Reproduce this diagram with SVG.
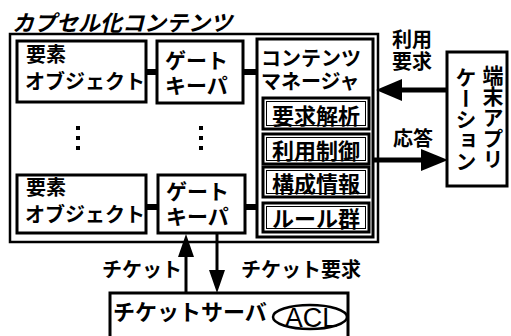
<svg xmlns="http://www.w3.org/2000/svg" width="511" height="336" viewBox="0 0 511 336">
<style>
text{font-family:"Noto Sans CJK JP","Noto Sans CJK SC",sans-serif;font-weight:bold;fill:#000}
.box{fill:#fff;stroke:#000;stroke-width:3}
.outer{fill:#fff;stroke:#000;stroke-width:2.5}
.sub{fill:#fff;stroke:#000;stroke-width:3}
.subin{fill:none;stroke:#000;stroke-width:1}
.line{stroke:#000;fill:none}
.head{fill:#000}
.t20{font-size:20px}
.t21{font-size:21px}
.t22{font-size:22px}
.mid{text-anchor:middle}
.v{writing-mode:vertical-rl;font-size:21px}
</style>
<rect width="511" height="336" fill="#fff"/>
<text x="12" y="31" font-size="22" font-style="italic" font-weight="normal">カプセル化コンテンツ</text>
<g id="capsule">
<rect class="outer" x="10" y="34" width="368" height="208"/>
</g>
<g id="connectors">
<line class="line" x1="145" y1="72" x2="158" y2="72" stroke-width="6"/>
<line class="line" x1="242" y1="72" x2="258" y2="72" stroke-width="6"/>
<line class="line" x1="145" y1="207" x2="158" y2="207" stroke-width="6"/>
<line class="line" x1="244" y1="207" x2="258" y2="207" stroke-width="6"/>
<line class="line" x1="400" y1="90" x2="448" y2="90" stroke-width="5"/>
<polygon class="head" points="376,90 402,79 402,101"/>
<line class="line" x1="373" y1="160" x2="424" y2="160" stroke-width="5"/>
<polygon class="head" points="448,160 421,149 421,171"/>
<line class="line" x1="186" y1="255" x2="186" y2="293" stroke-width="3"/>
<polygon class="head" points="186,234 178,257 194,257"/>
<line class="line" x1="217" y1="233" x2="217" y2="272" stroke-width="3"/>
<polygon class="head" points="217,293 209,270 225,270"/>
</g>
<g id="elem1">
<rect class="box" x="17" y="41" width="129" height="61"/>
<text x="26" y="62" class="t20">要素</text>
<text x="25" y="89" class="t20">オブジェクト</text>
</g>
<g id="gate1">
<rect class="box" x="157" y="41" width="86" height="62"/>
<text x="165" y="68" class="t21">ゲート</text>
<text x="165" y="93" class="t21">キーパ</text>
</g>
<g id="dots">
<rect x="76" y="126" width="4" height="4"/>
<rect x="76" y="136" width="4" height="4"/>
<rect x="76" y="146" width="4" height="4"/>
<rect x="199" y="126" width="4" height="4"/>
<rect x="199" y="136" width="4" height="4"/>
<rect x="199" y="146" width="4" height="4"/>
</g>
<g id="elem2">
<rect class="box" x="17" y="175" width="129" height="58"/>
<text x="26" y="195" class="t20">要素</text>
<text x="25" y="222" class="t20">オブジェクト</text>
</g>
<g id="gate2">
<rect class="box" x="158" y="175" width="87" height="58"/>
<text x="166" y="199" class="t21">ゲート</text>
<text x="166" y="224" class="t21">キーパ</text>
</g>
<g id="manager">
<rect class="box" x="257" y="39" width="116" height="198"/>
<text x="261" y="66" class="t20">コンテンツ</text>
<text x="261" y="89" class="t20">マネージャ</text>
</g>
<g id="req">
<rect class="sub" x="263" y="98" width="106" height="31"/>
<rect class="subin" x="266.5" y="101.5" width="99" height="24"/>
<text x="316" y="124" class="t22 mid">要求解析</text>
</g>
<g id="use">
<rect class="sub" x="263" y="134" width="106" height="30"/>
<rect class="subin" x="266.5" y="137.5" width="99" height="23"/>
<text x="316" y="159" class="t22 mid">利用制御</text>
</g>
<g id="conf">
<rect class="sub" x="263" y="167" width="106" height="30"/>
<rect class="subin" x="266.5" y="170.5" width="99" height="23"/>
<text x="316" y="192" class="t22 mid">構成情報</text>
</g>
<g id="rules">
<rect class="sub" x="263" y="203" width="106" height="29"/>
<rect class="subin" x="266.5" y="206.5" width="99" height="22"/>
<text x="316" y="227" class="t22 mid">ルール群</text>
</g>
<g id="app">
<rect class="box" x="447" y="52" width="60" height="134"/>
<text x="493" y="65" class="v">端末アプリ</text>
<text x="466" y="67" class="v">ケーション</text>
</g>
<g id="labels">
<text x="392" y="47" class="t20">利用</text>
<text x="392" y="69" class="t20">要求</text>
<text x="393" y="146" class="t20">応答</text>
<text x="102" y="277" class="t20">チケット</text>
<text x="241" y="277" class="t20">チケット要求</text>
</g>
<g id="server">
<rect class="box" x="110" y="293" width="238" height="50"/>
<text x="113" y="320" class="t22">チケットサーバ</text>
<ellipse cx="310" cy="317" rx="37" ry="12" fill="#fff" stroke="#000" stroke-width="2.5"/>
<text x="311" y="327" font-size="27" text-anchor="middle" style="font-family:'Liberation Sans',sans-serif;font-weight:normal">ACL</text>
</g>
</svg>
